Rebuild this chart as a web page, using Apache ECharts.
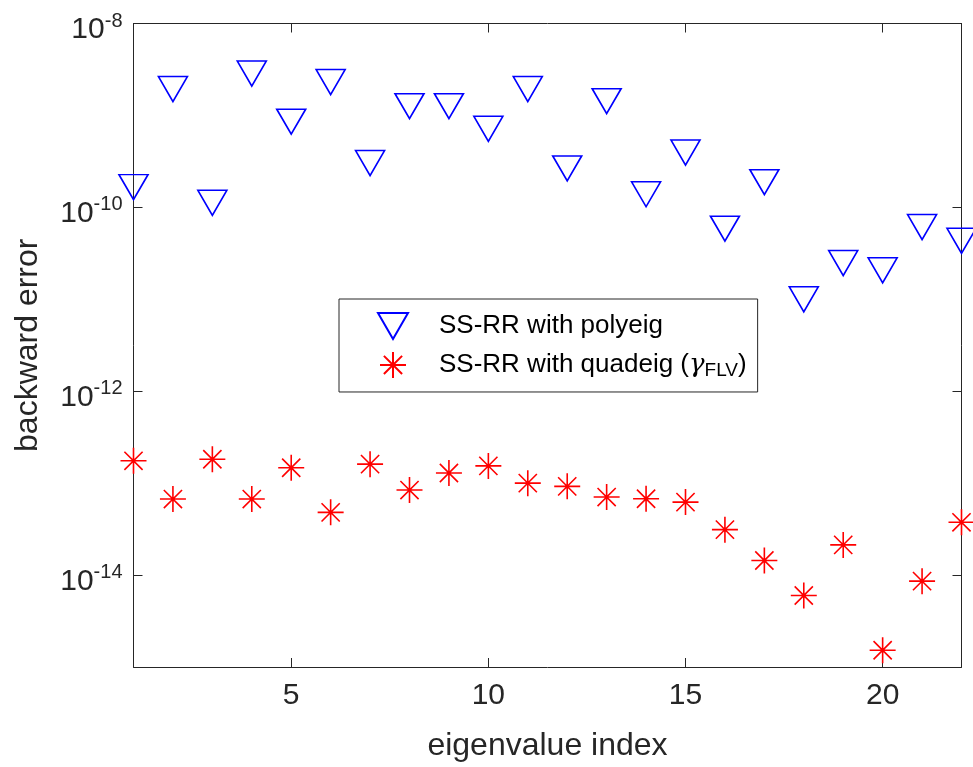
<!DOCTYPE html>
<html>
<head>
<meta charset="utf-8">
<script src="https://cdn.jsdelivr.net/npm/echarts@6/dist/echarts.min.js"></script>
<style>
  html, body { margin: 0; padding: 0; background: #fff; }
  #graph { width: 973px; height: 767px; }
</style>
</head>
<body>
<div id="graph"></div>
<script>
const eigIndex = [1, 2, 3, 4, 5, 6, 7, 8, 9, 10, 11, 12, 13, 14, 15, 16, 17, 18, 19, 20, 21, 22];

// SS-RR with polyeig
const polyeigErr = [
  1.66e-10, 1.94e-9, 1.12e-10, 2.85e-9, 8.55e-10, 2.31e-9, 3.03e-10, 1.26e-9,
  1.26e-9, 7.16e-10, 1.94e-9, 2.65e-10, 1.43e-9, 1.39e-10, 3.94e-10, 5.86e-11,
  1.88e-10, 1.0e-11, 2.48e-11, 2.07e-11, 6.11e-11, 4.32e-11
];

// SS-RR with quadeig (gamma_FLV)
const quadeigErr = [
  1.75e-13, 6.71e-14, 1.82e-13, 6.71e-14, 1.47e-13, 4.81e-14, 1.61e-13, 8.41e-14,
  1.29e-13, 1.54e-13, 1.00e-13, 9.23e-14, 7.06e-14, 6.76e-14, 6.22e-14, 3.12e-14,
  1.44e-14, 6.0e-15, 2.13e-14, 1.52e-15, 8.59e-15, 3.75e-14
];

const xTicks = [5, 10, 15, 20];
const yTicks = [1e-14, 1e-12, 1e-10, 1e-8];

const FONT = '"Liberation Sans", Arial, Helvetica, sans-serif';
const AXIS_COLOR = '#262626';

const triPath = 'path://M0,0L2,0L1,1.732Z';
const starPath = 'path://M0,-1L0,1M-1,0L1,0M-0.7,-0.7L0.7,0.7M-0.7,0.7L0.7,-0.7';

const myChart = echarts.init(document.getElementById('graph'));

function pairs(ys) {
  return eigIndex.map((x, i) => [x, ys[i]]);
}

const supLabel = {
  formatter: function (v) {
    const e = Math.round(Math.log10(v));
    return '{b|10}{s|' + e + '}';
  },
  padding: [9, 0, 0, 0],
  rich: {
    b: { fontSize: 30, fontFamily: FONT, color: AXIS_COLOR, lineHeight: 34, verticalAlign: 'bottom' },
    s: { fontSize: 20, fontFamily: FONT, color: AXIS_COLOR, lineHeight: 34, verticalAlign: 'top' }
  }
};

let option = {
  animation: false,
  backgroundColor: '#fff',
  textStyle: { fontFamily: FONT },
  grid: { left: 133.5, right: 11.5, top: 23.5, bottom: 99.3, containLabel: false },
  legend: {
    orient: 'vertical',
    left: 339,
    top: 299,
    padding: [13, 11, 12, 38],
    itemGap: 7,
    itemWidth: 30,
    itemHeight: 26,
    borderColor: AXIS_COLOR,
    borderWidth: 1,
    backgroundColor: '#fff',
    data: ['polyeig', 'quadeig'],
    formatter: function (name) {
      if (name === 'polyeig') return '{t|SS-RR with polyeig}';
      return '{t|SS-RR with quadeig (}{g|γ}{sub|FLV}{p|)}';
    },
    textStyle: {
      color: '#000',
      fontFamily: FONT,
      fontSize: 26,
      rich: {
        t: { fontSize: 26, fontFamily: FONT, color: '#000', padding: [0, 0, 0, 26], lineHeight: 30 },
        g: { fontSize: 26, fontFamily: '"DejaVu Serif", serif', fontStyle: 'italic', color: '#000', lineHeight: 30 },
        sub: { fontSize: 19, fontFamily: FONT, color: '#000', lineHeight: 30, verticalAlign: 'bottom', padding: [14, 0, 0, 0] },
        p: { fontSize: 26, fontFamily: FONT, color: '#000', lineHeight: 30 }
      }
    }
  },
  xAxis: [
    {
      type: 'value',
      min: 1,
      max: 22,
      name: 'eigenvalue index',
      nameLocation: 'middle',
      nameGap: 63,
      nameTextStyle: { fontSize: 32, color: AXIS_COLOR, fontFamily: FONT },
      axisLine: { show: true, onZero: false, lineStyle: { color: AXIS_COLOR, width: 1 } },
      axisTick: { show: true, inside: true, length: 9, customValues: xTicks, lineStyle: { color: AXIS_COLOR } },
      axisLabel: { fontSize: 30, color: AXIS_COLOR, margin: 14, customValues: xTicks },
      splitLine: { show: false }
    },
    {
      type: 'value',
      position: 'top',
      min: 1,
      max: 22,
      axisLine: { show: true, onZero: false, lineStyle: { color: AXIS_COLOR, width: 1 } },
      axisTick: { show: true, inside: true, length: 9, customValues: xTicks, lineStyle: { color: AXIS_COLOR } },
      axisLabel: { show: false },
      splitLine: { show: false }
    }
  ],
  yAxis: [
    {
      type: 'log',
      logBase: 10,
      min: 1e-15,
      max: 1e-8,
      name: 'backward error',
      nameLocation: 'middle',
      nameGap: 89,
      nameTextStyle: { fontSize: 32, color: AXIS_COLOR, fontFamily: FONT },
      axisLine: { show: true, onZero: false, lineStyle: { color: AXIS_COLOR, width: 1 } },
      axisTick: { show: true, inside: true, length: 9, customValues: yTicks, lineStyle: { color: AXIS_COLOR } },
      axisLabel: Object.assign({ margin: 11, customValues: yTicks }, supLabel),
      splitLine: { show: false }
    },
    {
      type: 'log',
      logBase: 10,
      position: 'right',
      min: 1e-15,
      max: 1e-8,
      axisLine: { show: true, onZero: false, lineStyle: { color: AXIS_COLOR, width: 1 } },
      axisTick: { show: true, inside: true, length: 9, customValues: yTicks, lineStyle: { color: AXIS_COLOR } },
      axisLabel: { show: false },
      splitLine: { show: false }
    }
  ],
  series: [
    {
      name: 'polyeig',
      type: 'scatter',
      xAxisIndex: 0,
      yAxisIndex: 0,
      clip: false,
      symbol: triPath,
      symbolSize: [29, 25],
      itemStyle: { color: 'rgba(0,0,0,0)', borderColor: '#0000ff', borderWidth: 1.6, opacity: 1 },
      emphasis: { disabled: true },
      data: pairs(polyeigErr),
      z: 3
    },
    {
      name: 'quadeig',
      type: 'scatter',
      xAxisIndex: 0,
      yAxisIndex: 0,
      clip: false,
      symbol: starPath,
      symbolSize: 26,
      itemStyle: { color: 'rgba(0,0,0,0)', borderColor: '#ff0000', borderWidth: 1.6, opacity: 1 },
      emphasis: { disabled: true },
      data: pairs(quadeigErr),
      z: 3
    }
  ]
};

myChart.setOption(option);
</script>
</body>
</html>
